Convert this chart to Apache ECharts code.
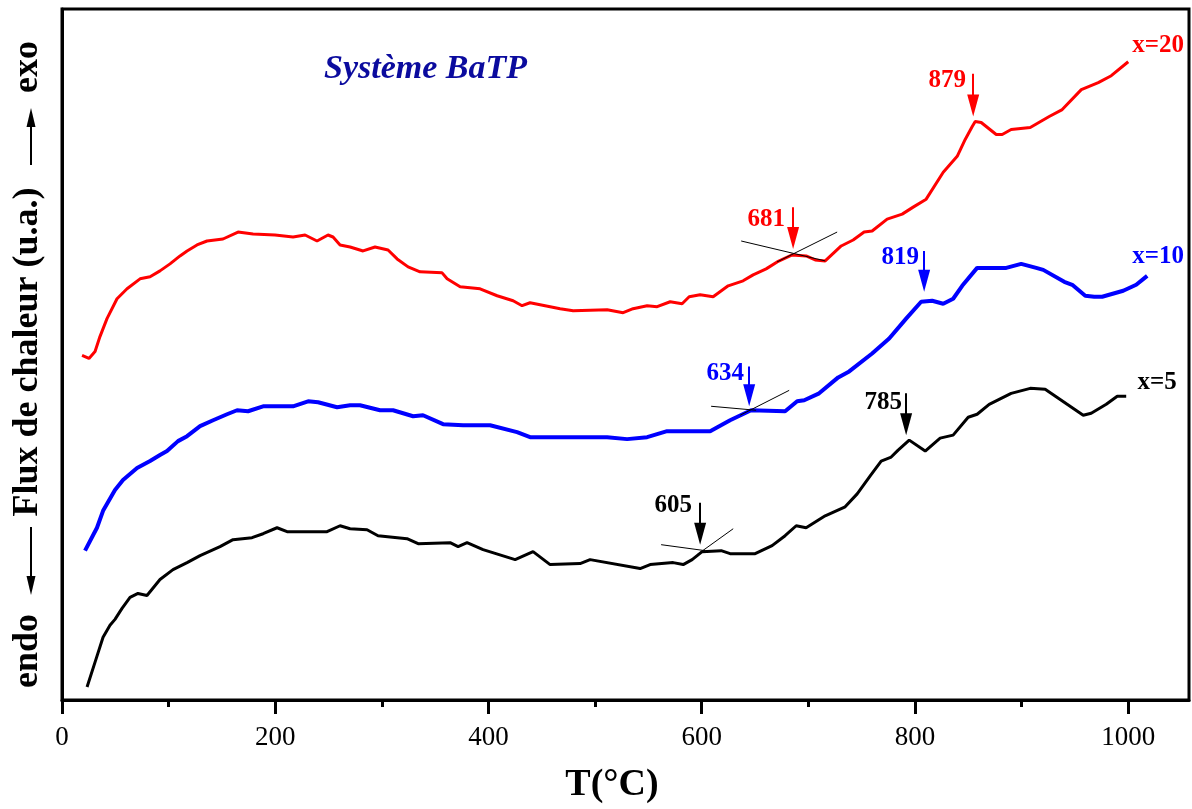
<!DOCTYPE html>
<html>
<head>
<meta charset="utf-8">
<script src="https://cdn.jsdelivr.net/npm/echarts@6/dist/echarts.min.js"></script>
<style>html,body{margin:0;padding:0;background:#fff}#c{width:1192px;height:809px}</style>
</head>
<body>
<div id="c"></div>
<script>
// Temperature (°C) and heat flow (arbitrary units)
const red_x20 = [[18.8,346],[25.3,343],[31.0,350],[35.6,365],[42.2,383],[51.6,403],[61.0,413],[73.2,423],[82.6,425],[91.9,431],[101.3,438],[110.7,446],[117.3,451],[126.6,457],[136.0,461],[151.0,463],[165.1,470],[179.2,468],[199.8,467],[216.7,465],[228.0,467],[239.2,461],[249.5,467],[254.2,465],[260.8,457],[270.2,455],[282.4,451],[293.6,455],[305.8,452],[314.3,443],[324.6,435],[335.8,430],[356.5,429],[361.2,423],[373.4,415],[392.1,413],[408.1,406],[423.1,401],[431.5,396],[439.0,399],[453.1,396],[467.2,393],[479.4,391],[511.3,392],[526.3,389],[535.6,393],[548.8,396],[558.2,395],[570.4,400],[581.6,398],[588.2,405],[598.5,407],[610.7,405],[624.8,416],[638.8,421],[648.2,427],[660.4,433],[670.7,440],[684.8,447],[697.9,446],[706.4,442],[715.8,441],[730.8,456],[742.0,462],[752.3,470],[759.8,471],[773.9,483],[788.0,488],[798.3,495],[810.5,503],[826.5,530],[839.6,546],[847.1,563],[853.7,576],[856.5,581],[862.1,580],[876.2,568],[881.8,568],[890.2,573],[908.1,575],[925.9,586],[938.1,593],[956.0,613],[971.9,620],[984.1,627],[1000,641]];
const blue_x10 = [[21.6,150],[32.8,173],[38.5,190],[49.7,211],[57.2,221],[70.4,233],[82.6,240],[91.9,246],[98.5,250],[108.8,260],[117.3,265],[129.5,275],[141.7,281],[154.8,287],[164.2,291],[174.5,290],[188.6,295],[216.7,295],[230.8,300],[240.2,299],[258.0,294],[270.2,296],[279.5,296],[298.3,291],[310.5,291],[329.3,285],[338.6,286],[357.4,277],[376.2,276],[401.5,276],[426.8,269],[439.0,264],[511.3,264],[530.0,262],[548.8,264],[567.5,270],[607.9,270],[626.6,281],[646.3,291],[678.2,290],[689.5,300],[696.1,301],[710.1,308],[728.0,324],[738.3,330],[759.8,348],[775.8,363],[791.7,383],[805.8,400],[816.1,401],[826.5,398],[835.8,403],[844.3,416],[858.3,434],[885.6,434],[899.6,438],[913.7,434],[920.3,432],[940.0,420],[947.5,417],[959.7,406],[968.1,405],[975.6,405],[995.3,411],[1007.5,417],[1017.8,426]];
const black_x5 = [[23.5,13],[31.0,38],[38.5,63],[45.0,75],[49.7,81],[56.3,92],[63.8,103],[71.3,107],[79.7,105],[91.9,121],[104.1,131],[117.3,138],[129.5,145],[148.2,154],[160.4,161],[178.2,163],[188.6,167],[201.7,173],[211.1,169],[248.6,169],[260.8,175],[270.2,172],[286.1,171],[296.4,165],[323.6,162],[334.0,157],[364.0,158],[371.5,154],[379.9,158],[394.9,151],[425.0,141],[441.8,149],[457.8,136],[485.9,137],[495.3,141],[542.2,132],[551.6,136],[573.2,138],[582.6,136],[591.0,141],[600.4,149],[618.2,150],[626.6,147],[650.1,147],[666.0,155],[678.2,165],[688.6,175],[697.9,173],[715.8,185],[734.5,194],[745.8,207],[758.0,225],[768.3,240],[777.7,244],[784.2,251],[794.6,261],[809.6,250],[823.6,263],[835.8,266],[849.9,284],[858.3,287],[869.6,297],[890.2,308],[908.1,313],[922.1,312],[957.8,286],[965.3,288],[979.4,297],[989.7,305],[998.1,305]];

// Annotations: arrows [x, yStart, yTip], tangent segments, labels [x, y, text]
const redArrows = [[685.7,495,453],[854.6,629,586]];
const blueArrows = [[808.6,451,410],[644.5,335,295]];
const blackArrows = [[791.7,308,266],[598.5,198,156]];
const redTangents = [[[637.0,461],[715.8,441]],[[670.7,440],[727.0,470]]];
const blueTangents = [[[608.8,295],[651.0,291]],[[636.0,286],[682.0,311]]];
const blackTangents = [[[561.9,156],[603.2,150]],[[595.7,146],[629.5,172]]];
const redLabels = [[660.4,483,'681'],[830.2,622,'879'],[1028.1,657,'x=20']];
const blueLabels = [[786.1,444,'819'],[622.0,328,'634'],[1028.1,445,'x=10']];
const blackLabels = [[770.2,299,'785'],[573.2,195,'605'],[1027.2,319,'x=5']];

const majorTicks = [0,200,400,600,800,1000];
const minorTicks = [100,300,500,700,900];

const chart = echarts.init(document.getElementById('c'));
const SERIF = '"Liberation Serif","Times New Roman",serif';
const ARROW_HALF = 11;

function markLines(arrows, tangents, color) {
  const data = [];
  arrows.forEach(a => {
    data.push([
      {coord:[a[0], a[1]], symbol:'none', lineStyle:{color:color, width:2}},
      {coord:[a[0], a[2] + ARROW_HALF], symbol:'triangle', symbolSize:[12,22]}
    ]);
  });
  tangents.forEach(t => {
    data.push([
      {coord:t[0], symbol:'none', lineStyle:{color:'#000', width:1}},
      {coord:t[1], symbol:'none'}
    ]);
  });
  return {silent:true, animation:false, symbol:['none','none'], label:{show:false},
          emphasis:{disabled:true}, lineStyle:{type:'solid'}, data:data};
}
function markPoints(labels, color) {
  return {silent:true, animation:false, symbol:'circle', symbolSize:1,
    itemStyle:{color:'rgba(0,0,0,0)'},
    label:{show:true, position:'inside', formatter:p => p.data.txt, color:color,
           fontFamily:SERIF, fontWeight:'bold', fontSize:25},
    data: labels.map(l => ({coord:[l[0], l[1]], txt:l[2]}))};
}
function lineSeries(name, data, color, width, arrows, tangents, labels) {
  return {name:name, type:'line', data:data, showSymbol:false, symbol:'none',
    lineStyle:{color:color, width:width}, itemStyle:{color:color}, animation:false,
    xAxisIndex:0, yAxisIndex:0, z:3,
    markLine:markLines(arrows, tangents, color), markPoint:markPoints(labels, color)};
}

const option = {
  backgroundColor:'#fff',
  animation:false,
  title:{text:'Système BaTP', left:324, top:52, padding:0,
    textStyle:{fontFamily:SERIF, fontStyle:'italic', fontWeight:'bold', fontSize:34, color:'#0b0b9e'}},
  grid:{left:62, right:3, top:9, bottom:106, show:true, borderColor:'#000', borderWidth:3, backgroundColor:'transparent'},
  xAxis:[{
    type:'value', min:0, max:1057, position:'bottom',
    name:'T(°C)', nameLocation:'middle', nameGap:66,
    nameTextStyle:{fontFamily:SERIF, fontWeight:'bold', fontSize:38, color:'#000', padding:[0,27,0,0]},
    axisLine:{show:true, onZero:false, lineStyle:{color:'#000', width:3}},
    axisTick:{show:true, inside:false, length:14, lineStyle:{color:'#000', width:3}, customValues:majorTicks},
    axisLabel:{show:true, margin:24, color:'#000', fontFamily:SERIF, fontSize:27, customValues:majorTicks,
               formatter:v => String(v)},
    splitLine:{show:false}
  },{
    type:'value', min:0, max:1057, position:'bottom', gridIndex:0,
    axisLine:{show:false},
    axisTick:{show:true, inside:false, length:7, lineStyle:{color:'#000', width:3}, customValues:minorTicks},
    axisLabel:{show:false, customValues:minorTicks},
    splitLine:{show:false}
  }],
  yAxis:{type:'value', min:0, max:694,
    axisLine:{show:true, onZero:false, lineStyle:{color:'#000', width:3}},
    axisTick:{show:false}, axisLabel:{show:false}, splitLine:{show:false}},
  graphic:[
    {type:'text', x:28, y:67, rotation:Math.PI/2, style:{text:'exo', fontFamily:SERIF, fontWeight:'bold', fontSize:36, fill:'#000', align:'center', verticalAlign:'middle'}},
    {type:'line', shape:{x1:31, y1:165, x2:31, y2:122}, style:{stroke:'#000', lineWidth:2}},
    {type:'polygon', shape:{points:[[31,108],[26.5,127],[35.5,127]]}, style:{fill:'#000'}},
    {type:'text', x:28, y:352, rotation:Math.PI/2, style:{text:'Flux de chaleur (u.a.)', fontFamily:SERIF, fontWeight:'bold', fontSize:36, fill:'#000', align:'center', verticalAlign:'middle'}},
    {type:'line', shape:{x1:31, y1:527, x2:31, y2:580}, style:{stroke:'#000', lineWidth:2}},
    {type:'polygon', shape:{points:[[31,595],[26.5,576],[35.5,576]]}, style:{fill:'#000'}},
    {type:'text', x:28, y:651, rotation:Math.PI/2, style:{text:'endo', fontFamily:SERIF, fontWeight:'bold', fontSize:36, fill:'#000', align:'center', verticalAlign:'middle'}}
  ],
  series:[
    lineSeries('x=20', red_x20, '#ff0000', 3, redArrows, redTangents, redLabels),
    lineSeries('x=10', blue_x10, '#0000ff', 4, blueArrows, blueTangents, blueLabels),
    lineSeries('x=5', black_x5, '#000000', 3, blackArrows, blackTangents, blackLabels)
  ]
};
chart.setOption(option);
</script>
</body>
</html>
